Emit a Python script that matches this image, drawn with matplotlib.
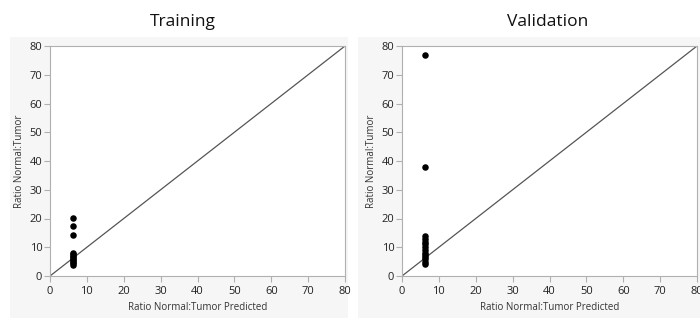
import matplotlib
matplotlib.use("Agg")
import matplotlib.pyplot as plt
from matplotlib.patches import Rectangle

plt.rcParams['font.family'] = ['Open Sans', 'DejaVu Sans']

train_pred = [6.3] * 12
train_actual = [4.0, 4.5, 5.0, 5.5, 6.0, 6.5, 7.0, 7.5, 8.0, 14.3, 17.5, 20.3]
valid_pred = [6.3] * 14
valid_actual = [4.2, 5.0, 5.8, 6.5, 7.2, 8.0, 9.0, 10.0, 11.0, 12.0, 13.0, 13.8, 38.0, 77.0]
ticks = [0, 10, 20, 30, 40, 50, 60, 70, 80]
titles = ["Training", "Validation"]

W, H = 700, 321
fig = plt.figure(figsize=(W / 100, H / 100), dpi=100)

def fx(px):
    return px / W

def fy(py):
    return 1 - py / H

# gray panel backgrounds
for x0, x1 in [(10, 348), (358, 700)]:
    fig.patches.append(Rectangle((fx(x0), fy(318)), fx(x1 - x0), fy(37) - fy(318),
                                 transform=fig.transFigure, facecolor='#f6f6f6',
                                 edgecolor='none', zorder=-5))

panels = [(50, train_pred, train_actual, 183), (402, valid_pred, valid_actual, 548)]
for (left, xp, ya, tx), title in zip(panels, titles):
    ax = fig.add_axes([fx(left), fy(276), fx(295), fy(46) - fy(276)])
    ax.set_zorder(2)
    ax.set_facecolor('white')
    ax.plot([0, 80], [0, 80], color='#555555', lw=0.9, zorder=2)
    ax.scatter(xp, ya, s=22, color='black', zorder=3, linewidths=0)
    ax.set_xlim(0, 80)
    ax.set_ylim(0, 80)
    ax.set_xticks(ticks)
    ax.set_yticks(ticks)
    for sp in ax.spines.values():
        sp.set_color('#b0b0b0')
        sp.set_linewidth(0.8)
    ax.tick_params(colors='#b0b0b0', labelcolor='#222222', labelsize=8,
                   length=4, width=0.8)
    ax.tick_params(axis='x', pad=3.5)
    ax.tick_params(axis='y', pad=1.5)
    ax.set_xlabel("Ratio Normal:Tumor Predicted", fontsize=7, color='#333333', labelpad=3.5)
    ax.set_ylabel("Ratio Normal:Tumor", fontsize=7, color='#333333', labelpad=3)
    fig.text(fx(tx), fy(22), title, ha='center', va='center', fontsize=12.5, color='#111111')

fig.savefig("out.png", dpi=100)
